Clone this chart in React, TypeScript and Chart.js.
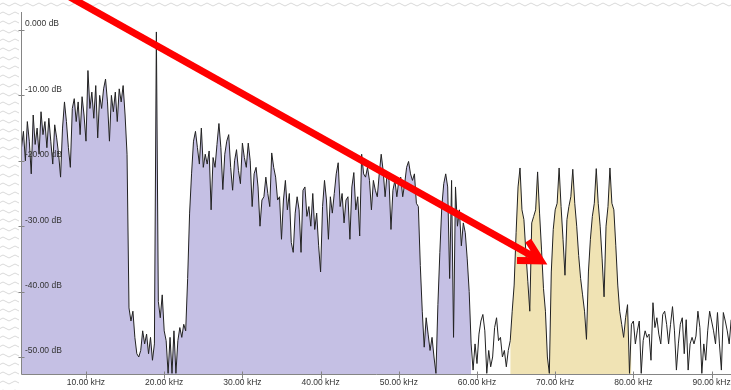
import React, { useEffect, useRef } from "react";
import { Chart, registerables } from "chart.js";

Chart.register(...registerables);

// ---- sampling grid of the spectrum trace (kHz) ----
const startKHz = 1.75;
const stepKHz = 0.25;

// ---- trace levels (dB), consecutive on the grid ----
const lowBandDb = [
  -18, -15.5, -20, -14, -17, -22, -13, -17.5, -15, -19,
  -12.5, -16, -14, -18, -13.5, -17, -20.5, -14.5, -16.5, -19,
  -22.5, -15, -11, -14, -18, -21, -12, -10.5, -14, -11,
  -16, -10.2, -13, -17, -6.2, -12, -9.5, -13.5, -8.5, -16.5,
  -10, -12, -9, -7.5, -11, -17, -10, -12.5, -9.5, -14,
  -9, -11, -8.5, -13, -19,
];
const gap20kDb = [
  -42.5, -44.5, -43, -47, -49.5, -50, -49, -46, -48, -46.5,
  -49.5, -47, -50.5, -48, -0.3, -41.5, -44, -40.5, -46, -47.5,
  -52.5, -47, -52.5, -46, -52.5, -47.5, -45.5, -47, -45, -46,
  -38, -28,
];
const midBandDb = [
  -22, -17, -15.5, -18, -20.5, -15, -21, -19, -20.5, -18.5,
  -27.5, -19.5, -21, -17.5, -14.3, -18, -24.4, -19, -17, -16,
  -21, -24.5, -20, -18.3, -21.5, -23.5, -17.3, -19.5, -21, -17.3,
  -20, -27, -22, -21, -24, -30, -26, -25.5, -22.5, -25,
  -27, -18.8, -21, -22.5, -26, -25.5, -32, -26, -23, -27.5,
  -25, -32.5, -34, -28, -25.5, -27.5, -34, -24.5, -24, -28.5,
  -27, -30, -25, -30.5, -28, -33, -37, -27, -23, -26,
  -32, -25.5, -28, -25, -22, -20.3, -27, -25, -29.5, -26,
  -25.5, -32, -24, -21.8, -27.5, -25.5, -31.5, -19, -22, -22.5,
  -21, -23, -27.5, -23, -24.5, -25.5, -22, -19, -21.5, -25.5,
  -22, -23, -30.5, -24.5, -23, -25.5, -23, -22.5, -25.5, -23.5,
  -21, -20.1, -22, -23, -22, -26.5, -27, -36,
];
const notchDb = [-43, -48.5, -44, -46.5, -49, -47, -50, -52.5];
const smallBandDb = [
  -42, -34, -27, -23.5, -22, -24, -38, -23, -47, -24,
  -30, -27.5, -33, -29.5, -31, -35, -40, -48,
];
const gap62kDb = [
  -52, -48, -51, -46.5, -44.5, -43.5, -46, -52.5, -49, -51.5,
  -50, -45.5, -44, -47.5, -47, -50, -49, -51.5, -49, -47.5,
];
const tanBandDb = [
  -43, -39, -31, -24, -21.1, -27.5, -29, -34, -38.5, -43,
  -29.5, -28.5, -27.5, -21.7, -28, -33.5, -39.5, -43, -50, -52.5,
  -37, -30.5, -27.5, -26.5, -21.1, -27, -32, -37.5, -29, -27,
  -25.5, -21.3, -26.5, -30, -34.5, -38, -40.5, -43, -47.3, -37,
  -32, -28.5, -26.5, -21.2, -26.5, -30, -35, -40.8, -30, -27,
  -21.1, -26.5, -27.5, -33, -39, -43, -45, -47,
];
const upperNoiseDb = [
  -44, -42, -52.5, -45, -44.5, -48, -46, -44.5, -52.5, -47.5,
  -46, -47, -46.5, -50.5, -41.7, -45.5, -44, -46.5, -48, -43.5,
  -43, -45, -48, -45, -42.3, -46, -52, -48, -45, -44,
  -49.5, -44.3, -52, -48, -47, -48, -46.8, -43, -45.5, -52.5,
  -48, -50.5, -46, -43, -44.5, -46, -48, -43.2, -48, -52,
  -43.2, -44.5, -46, -48, -44.3,
];

// filled bands (kHz ranges)
const purpleBand = [1.75, 59.25];
const tanBand = [64.25, 79.75];

// axes
const xMinKHz = 1.69;
const xMaxKHz = 92.48;
const yMinDb = -52.6;
const yMaxDb = 2.75;
const xTickValues = [10, 20, 30, 40, 50, 60, 70, 80, 90];
const xTickLabels = ["10.00 kHz", "20.00 kHz", "30.00 kHz", "40.00 kHz", "50.00 kHz", "60.00 kHz", "70.00 kHz", "80.00 kHz", "90.00 kHz"];
const yTickValues = [0, -10, -20, -30, -40, -50];
const yTickLabels = ["0.000 dB", "-10.00 dB", "-20.00 dB", "-30.00 dB", "-40.00 dB", "-50.00 dB"];

// red arrow annotation, in data coordinates (kHz, dB)
const arrowFrom = { kHz: 6.32, db: 6.12 };
const arrowTo = { kHz: 68.18, db: -35.3 };

const FONT = { family: "'Liberation Sans', Arial, sans-serif", size: 8.5 };
const AXIS_COLOR = "#858585";

const patternSvg =
  "<svg xmlns='http://www.w3.org/2000/svg' width='12' height='9'><path d='M0 4.5 Q3 1.5 6 4.5 T12 4.5' fill='none' stroke='%23d9d9d9' stroke-width='1'/></svg>";

export default function App() {
  const canvasRef = useRef<HTMLCanvasElement | null>(null);

  useEffect(() => {
    const canvas = canvasRef.current;
    if (!canvas) return;

    const levelsDb = [
      ...lowBandDb, ...gap20kDb, ...midBandDb, ...notchDb,
      ...smallBandDb, ...gap62kDb, ...tanBandDb, ...upperNoiseDb,
    ];
    const trace = levelsDb.map((db, i) => ({ x: startKHz + i * stepKHz, y: db }));
    const purplePts = trace.filter((p) => p.x >= purpleBand[0] && p.x <= purpleBand[1]);
    const tanPts = trace.filter((p) => p.x >= tanBand[0] && p.x <= tanBand[1]);

    const backgroundPlugin = {
      id: "pageBg",
      beforeDraw(chart: any) {
        const { ctx, width, height } = chart;
        ctx.save();
        ctx.fillStyle = "#ffffff";
        ctx.fillRect(19, 10, width - 19, height - 10);
        ctx.restore();
      },
    };

    const axesPlugin = {
      id: "axesMarks",
      afterDatasetsDraw(chart: any) {
        const { ctx, chartArea } = chart;
        const xs = chart.scales.x;
        const ys = chart.scales.y;
        ctx.save();
        ctx.strokeStyle = AXIS_COLOR;
        ctx.lineWidth = 1;
        ctx.beginPath();
        const ax = Math.round(chartArea.left) + 0.5;
        const ay = Math.round(chartArea.bottom) + 0.5;
        ctx.moveTo(ax, chartArea.top);
        ctx.lineTo(ax, ay);
        ctx.moveTo(ax, ay);
        ctx.lineTo(chartArea.right, ay);
        yTickValues.forEach((v) => {
          const y = Math.round(ys.getPixelForValue(v)) + 0.5;
          ctx.moveTo(ax - 3, y);
          ctx.lineTo(ax + 3, y);
        });
        xTickValues.forEach((v) => {
          const x = Math.round(xs.getPixelForValue(v)) + 0.5;
          ctx.moveTo(x, ay - 3);
          ctx.lineTo(x, ay + 4);
        });
        ctx.stroke();
        ctx.restore();
      },
    };

    const arrowPlugin = {
      id: "redArrow",
      afterDraw(chart: any) {
        const { ctx } = chart;
        const xs = chart.scales.x;
        const ys = chart.scales.y;
        const x1 = xs.getPixelForValue(arrowFrom.kHz);
        const y1 = ys.getPixelForValue(arrowFrom.db);
        const x2 = xs.getPixelForValue(arrowTo.kHz);
        const y2 = ys.getPixelForValue(arrowTo.db);
        const ang = Math.atan2(y2 - y1, x2 - x1);
        const L = 24;
        const spread = 0.5;
        ctx.save();
        ctx.strokeStyle = "#ff0000";
        ctx.lineWidth = 7;
        ctx.lineCap = "butt";
        ctx.beginPath();
        ctx.moveTo(x1, y1);
        ctx.lineTo(x2 - 3 * Math.cos(ang), y2 - 3 * Math.sin(ang));
        ctx.stroke();
        ctx.lineJoin = "miter";
        ctx.miterLimit = 10;
        ctx.beginPath();
        ctx.moveTo(x2 - L * Math.cos(ang - spread), y2 - L * Math.sin(ang - spread));
        ctx.lineTo(x2, y2);
        ctx.lineTo(x2 - L * Math.cos(ang + spread), y2 - L * Math.sin(ang + spread));
        ctx.stroke();
        ctx.restore();
      },
    };

    const chart = new Chart(canvas, {
      type: "line",
      data: {
        datasets: [
          {
            label: "trace",
            data: trace,
            borderColor: "#222222",
            borderWidth: 1,
            pointRadius: 0,
            fill: false,
            tension: 0,
          },
          {
            label: "band A",
            data: purplePts,
            borderWidth: 0,
            borderColor: "rgba(0,0,0,0)",
            backgroundColor: "#c5c0e4",
            pointRadius: 0,
            fill: "start",
            tension: 0,
          },
          {
            label: "band B",
            data: tanPts,
            borderWidth: 0,
            borderColor: "rgba(0,0,0,0)",
            backgroundColor: "#f0e3b4",
            pointRadius: 0,
            fill: "start",
            tension: 0,
          },
        ],
      },
      options: {
        animation: false,
        responsive: false,
        parsing: false as any,
        normalized: true,
        layout: { padding: { top: 12, left: 0, right: 0, bottom: 0 } },
        plugins: {
          legend: { display: false },
          tooltip: { enabled: false },
        },
        scales: {
          x: {
            type: "linear",
            min: xMinKHz,
            max: xMaxKHz,
            grid: { display: false, drawTicks: false },
            border: { display: false },
            afterBuildTicks: (s: any) => {
              s.ticks = xTickValues.map((v) => ({ value: v }));
            },
            afterFit: (s: any) => {
              s.height = 16;
              s.paddingLeft = 0;
              s.paddingRight = 0;
            },
            ticks: {
              padding: 4,
              maxRotation: 0,
              autoSkip: false,
              color: "#333333",
              font: FONT,
              callback: (_v: any, i: number) => xTickLabels[i],
            },
          },
          y: {
            type: "linear",
            min: yMinDb,
            max: yMaxDb,
            grid: { display: false, drawTicks: false },
            border: { display: false },
            afterBuildTicks: (s: any) => {
              s.ticks = yTickValues.map((v) => ({ value: v }));
            },
            afterFit: (s: any) => {
              s.width = 21;
              s.paddingTop = 0;
              s.paddingBottom = 0;
            },
            ticks: {
              z: 1,
              mirror: true,
              padding: 4,
              labelOffset: -6,
              autoSkip: false,
              color: "#333333",
              font: FONT,
              callback: (_v: any, i: number) => yTickLabels[i],
            },
          },
        },
      },
      plugins: [backgroundPlugin, axesPlugin, arrowPlugin],
    });

    return () => chart.destroy();
  }, []);

  return (
    <div
      style={{
        position: "absolute",
        left: 0,
        top: 0,
        width: 731,
        height: 390,
        overflow: "hidden",
        backgroundColor: "#ffffff",
        backgroundImage: `url("data:image/svg+xml;utf8,${patternSvg}")`,
      }}
    >
      <canvas ref={canvasRef} width={731} height={390} style={{ display: "block" }} />
    </div>
  );
}
